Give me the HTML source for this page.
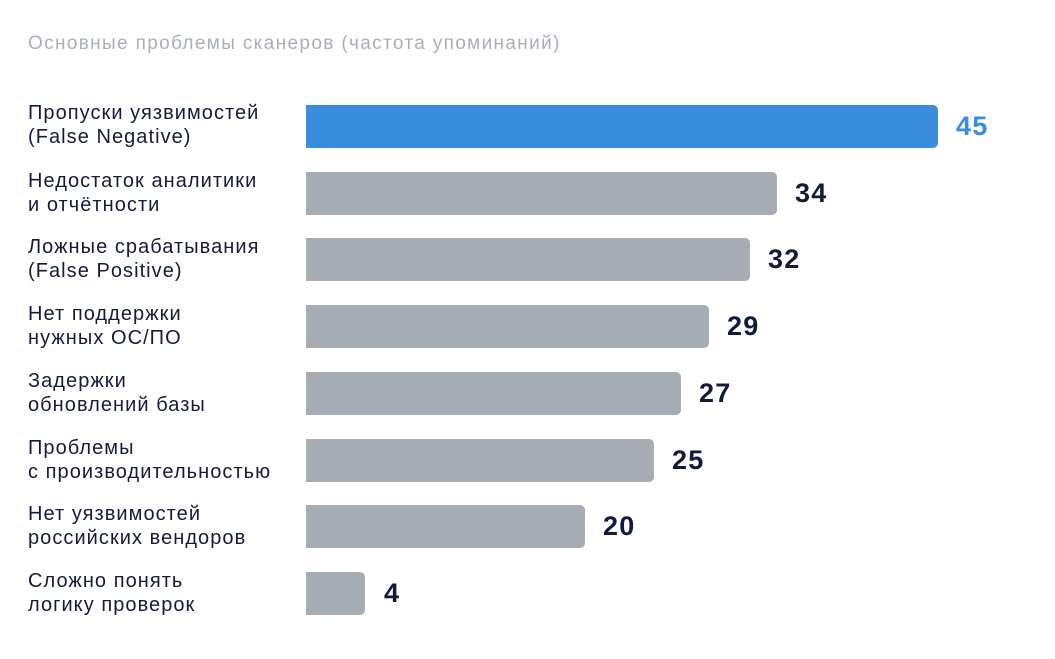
<!DOCTYPE html>
<html><head><meta charset="utf-8"><style>
body{margin:0;width:1055px;height:659px;background:#fff;font-family:"Liberation Sans",sans-serif;position:relative;overflow:hidden}
.t{position:absolute;left:28px;top:33px;font-size:19px;letter-spacing:1.35px;color:#a9afb7}
.l{position:absolute;left:28px;font-size:20px;letter-spacing:1.05px;line-height:24px;color:#141c3c}
.b{position:absolute;left:306px;height:43px;background:#a6acb4;border-radius:0 5px 5px 0}
.v{position:absolute;font-size:27px;letter-spacing:1.2px;font-weight:bold;color:#101a3c;line-height:43px}
</style></head><body>
<div class="t">Основные проблемы сканеров (частота упоминаний)</div>

<div class="l" style="top:101px">Пропуски уязвимостей<br>(False Negative)</div>
<div class="b" style="top:105px;width:632px;background:#3a8ddc"></div>
<div class="v" style="top:105px;left:956px;color:#3a8ddc">45</div>

<div class="l" style="top:169px">Недостаток аналитики<br>и отчётности</div>
<div class="b" style="top:172px;width:471px"></div>
<div class="v" style="top:172px;left:795px">34</div>

<div class="l" style="top:235px">Ложные срабатывания<br>(False Positive)</div>
<div class="b" style="top:238px;width:444px"></div>
<div class="v" style="top:238px;left:768px">32</div>

<div class="l" style="top:302px">Нет поддержки<br>нужных ОС/ПО</div>
<div class="b" style="top:305px;width:403px"></div>
<div class="v" style="top:305px;left:727px">29</div>

<div class="l" style="top:369px">Задержки<br>обновлений базы</div>
<div class="b" style="top:372px;width:375px"></div>
<div class="v" style="top:372px;left:699px">27</div>

<div class="l" style="top:436px">Проблемы<br>с производительностью</div>
<div class="b" style="top:439px;width:348px"></div>
<div class="v" style="top:439px;left:672px">25</div>

<div class="l" style="top:502px">Нет уязвимостей<br>российских вендоров</div>
<div class="b" style="top:505px;width:279px"></div>
<div class="v" style="top:505px;left:603px">20</div>

<div class="l" style="top:569px">Сложно понять<br>логику проверок</div>
<div class="b" style="top:572px;width:59px"></div>
<div class="v" style="top:572px;left:384px">4</div>
</body></html>
